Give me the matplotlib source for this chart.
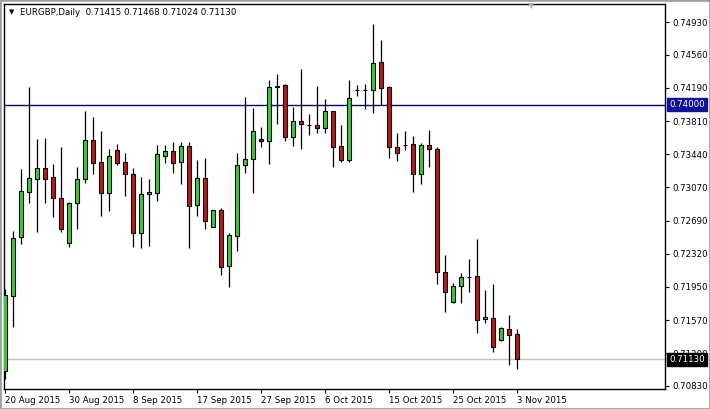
import matplotlib
matplotlib.use("Agg")
import matplotlib.pyplot as plt
from matplotlib.patches import Rectangle

symbol = "EURGBP,Daily"

opens = [0.70999, 0.71847, 0.72512, 0.73018, 0.73165, 0.73282, 0.73181, 0.72944, 0.72437, 0.72888,
         0.73158, 0.73597, 0.73350, 0.73007, 0.73485, 0.73350, 0.73214, 0.72550, 0.72989, 0.73007,
         0.73421, 0.73474, 0.73350, 0.73533, 0.72865, 0.73169, 0.72624, 0.72809, 0.72178, 0.72523,
         0.73316, 0.73383, 0.73609, 0.73586, 0.74194, 0.74217, 0.73638, 0.73812, 0.73770, 0.73766,
         0.73733, 0.73924, 0.73530, 0.73372, 0.74164, 0.74161, 0.74167, 0.74476, 0.74198, 0.73522,
         0.73545, 0.73552, 0.73214, 0.73541, 0.73496, 0.72117, 0.71779, 0.71953, 0.72060, 0.72066,
         0.71581, 0.71593, 0.71345, 0.71469, 0.71415]
highs = [0.71919, 0.72576, 0.73274, 0.74194, 0.73612, 0.73623, 0.73331, 0.73522, 0.72899, 0.73297,
         0.73928, 0.73863, 0.73702, 0.73496, 0.73556, 0.73451, 0.73282, 0.73181, 0.73158, 0.73545,
         0.73545, 0.73575, 0.73575, 0.73575, 0.73376, 0.73398, 0.72812, 0.72831, 0.72553, 0.73451,
         0.74082, 0.73961, 0.73747, 0.74273, 0.74344, 0.74232, 0.73973, 0.74401, 0.73890, 0.74206,
         0.74063, 0.73924, 0.73770, 0.74277, 0.74217, 0.74232, 0.74907, 0.74727, 0.74209, 0.73676,
         0.73702, 0.73646, 0.73564, 0.73713, 0.73525, 0.72306, 0.71987, 0.72099, 0.72264, 0.72486,
         0.71911, 0.71979, 0.71491, 0.71630, 0.71468]
lows = [0.70905, 0.71498, 0.72429, 0.72895, 0.72568, 0.72895, 0.72737, 0.72568, 0.72399, 0.72598,
        0.73120, 0.73214, 0.72748, 0.72801, 0.73319, 0.72970, 0.72399, 0.72388, 0.72410, 0.72914,
        0.73345, 0.73233, 0.73109, 0.72388, 0.72748, 0.72602, 0.72617, 0.72080, 0.71948, 0.72354,
        0.73229, 0.73007, 0.73519, 0.73334, 0.73781, 0.73593, 0.73533, 0.73500, 0.73654, 0.73683,
        0.73683, 0.73300, 0.73350, 0.73350, 0.74096, 0.73947, 0.73908, 0.73992, 0.73401, 0.73368,
        0.73485, 0.73018, 0.73109, 0.73300, 0.71979, 0.71667, 0.71765, 0.71765, 0.71892, 0.71423,
        0.71536, 0.71216, 0.71337, 0.71063, 0.71024]
closes = [0.71855, 0.72494, 0.73023, 0.73169, 0.73282, 0.73165, 0.72951, 0.72602, 0.72891, 0.73158,
          0.73597, 0.73345, 0.73007, 0.73417, 0.73345, 0.73214, 0.72557, 0.72993, 0.73015, 0.73440,
          0.73474, 0.73345, 0.73533, 0.72854, 0.73169, 0.72688, 0.72809, 0.72167, 0.72527, 0.73316,
          0.73383, 0.73699, 0.73586, 0.74194, 0.74212, 0.73638, 0.73812, 0.73785, 0.73770, 0.73733,
          0.73924, 0.73519, 0.73372, 0.74077, 0.74164, 0.74161, 0.74468, 0.74190, 0.73519, 0.73451,
          0.73545, 0.73214, 0.73541, 0.73496, 0.72117, 0.71885, 0.71953, 0.72054, 0.72060, 0.71577,
          0.71604, 0.71273, 0.71480, 0.71408, 0.71130]

date_ticks = [0, 8, 16, 24, 32, 40, 48, 56, 64]
date_labels = ["20 Aug 2015", "30 Aug 2015", "8 Sep 2015", "17 Sep 2015", "27 Sep 2015",
               "6 Oct 2015", "15 Oct 2015", "25 Oct 2015", "3 Nov 2015"]
price_ticks = [0.74930, 0.74560, 0.74190, 0.73810, 0.73440, 0.73070, 0.72690,
               0.72320, 0.71950, 0.71570, 0.71200, 0.70830]
hline_level = 0.74000
current_price = closes[-1]

W, H = 710, 409
fig = plt.figure(figsize=(W / 100, H / 100), dpi=100)
fig.patch.set_facecolor("white")
ax = fig.add_axes([4 / W, 1 - 389 / H, (665 - 4) / W, (389 - 4) / H])
ax.set_facecolor("white")

font = "DejaVu Sans"
fs = 6.2
bull = "#2fd42f"
bear = "#c81414"

xs = list(range(len(opens)))
for x, o, h, l, c in zip(xs, opens, highs, lows, closes):
    ax.vlines(x, l, h, color="black", linewidth=0.9, zorder=2)
    if c > o:
        col = bull
    elif c < o:
        col = bear
    else:
        col = "black"
    ax.bar(x, c - o, bottom=o, width=0.62, color=col, edgecolor="black",
           linewidth=0.8, zorder=3)

ax.axhline(hline_level, color="#000080", linewidth=1.0, zorder=1)
ax.axhline(current_price, color="#c0c0c0", linewidth=1.0, zorder=1)

ax.set_xlim(-0.125, 82.5)
ax.set_ylim(0.70796, 0.75133)

ax.set_xticks(date_ticks)
ax.set_xticklabels(date_labels, ha="left", fontsize=fs, family=font)
ax.tick_params(axis="x", direction="out", length=3, width=0.8, pad=2)
ax.yaxis.tick_right()
ax.set_yticks(price_ticks)
ax.set_yticklabels([f"{p:.5f}" for p in price_ticks], fontsize=fs, family=font)
ax.tick_params(axis="y", direction="out", length=3, width=0.8, pad=2)
for s in ax.spines.values():
    s.set_color("black")
    s.set_linewidth(1.0)

# price labels on right axis
for level, bg in [(hline_level, "#10109a"), (current_price, "black")]:
    ax.annotate(f"{level:.5f}", xy=(1, level), xycoords=("axes fraction", "data"),
                xytext=(3, 0), textcoords="offset points", ha="left", va="center",
                fontsize=fs, family=font, color="white", zorder=10,
                bbox=dict(boxstyle="square,pad=0.25", fc=bg, ec=bg), annotation_clip=False)

# title in top-left
fig.text(9 / W, 1 - 12.5 / H, "\u25bc", fontsize=5, family=font, va="center", ha="left")
fig.text(20.5 / W, 1 - 12.5 / H,
         f"{symbol}  {opens[-1]:.5f} {highs[-1]:.5f} {lows[-1]:.5f} {closes[-1]:.5f}",
         fontsize=fs, family=font, va="center", ha="left")
fig.text(531 / W, 1 - 6 / H, "\u25bc", fontsize=6, family=font, va="center", ha="center",
         color="#b0b0b0")

# outer border
fig.patches.append(Rectangle((0, 0), 1, 1, transform=fig.transFigure, fill=False,
                             edgecolor="#a0a0a0", linewidth=2))

fig.savefig("out.png", dpi=100, facecolor="white")
